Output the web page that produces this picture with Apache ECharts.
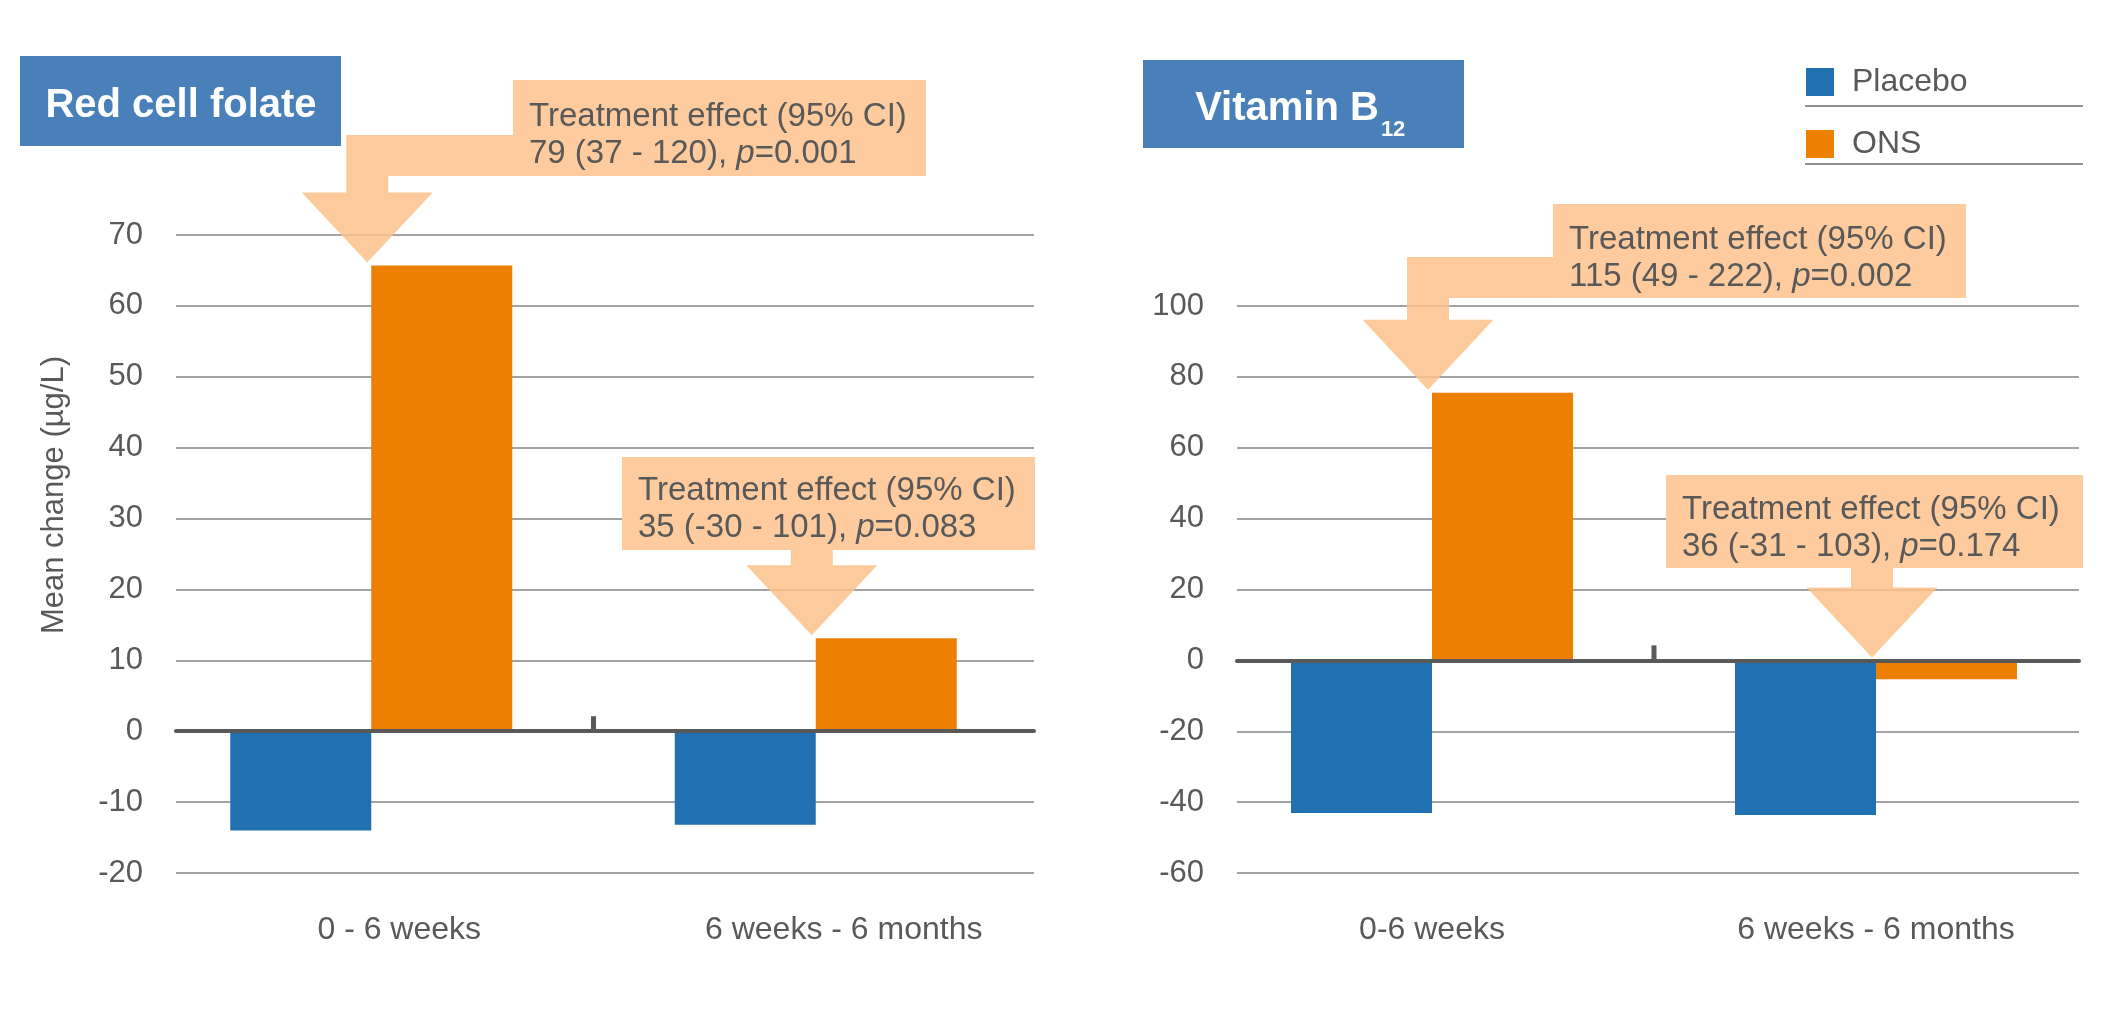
<!DOCTYPE html>
<html lang="en">
<head>
<meta charset="utf-8">
<title>Red cell folate and vitamin B12</title>
<script src="https://cdn.jsdelivr.net/npm/echarts@6/dist/echarts.min.js"></script>
<style>
  html, body { margin: 0; padding: 0; background: #fff; }
  #chart { width: 2115px; height: 1010px; }
</style>
</head>
<body>
<div id="chart"></div>
<script>
// categories of each panel
var folateCategories = ['0 - 6 weeks', '6 weeks - 6 months'];
var b12Categories = ['0-6 weeks', '6 weeks - 6 months'];

// mean change (µg/L)
var folatePlacebo = [-14.0, -13.2];
var folateOns = [65.7, 13.1];
var b12Placebo = [-43.1, -43.6];
var b12Ons = [75.5, -5.3];

// value axes: min, max, interval
var folateAxis = [-20, 70, 10];
var b12Axis = [-60, 100, 20];

// treatment effect callouts: estimate text, p value
var folateEffects = [['79 (37 - 120), ', '0.001'], ['35 (-30 - 101), ', '0.083']];
var b12Effects = [['115 (49 - 222), ', '0.002'], ['36 (-31 - 103), ', '0.174']];

var FONT = "'Liberation Sans', Arial, sans-serif";
var TEXT = '#595959';
var BLUE = '#2170B1';
var ORANGE = '#ED8000';
var PEACH = '#FDCB9D';

var chart = echarts.init(document.getElementById('chart'));

// axis that carries the tick labels (no grid lines)
function valueAxis(gridIndex, ax) {
    return {
        type: 'value',
        gridIndex: gridIndex,
        min: ax[0], max: ax[1], interval: ax[2],
        axisLine: { show: false },
        axisTick: { show: false },
        axisLabel: { fontSize: 31, color: TEXT, margin: 6, fontFamily: FONT },
        splitLine: { show: false }
    };
}

// same scale on the narrower back grid, only for the grid lines
function gridAxis(gridIndex, ax) {
    return {
        type: 'value',
        gridIndex: gridIndex,
        min: ax[0], max: ax[1], interval: ax[2],
        axisLine: { show: false },
        axisTick: { show: false },
        axisLabel: { show: false },
        splitLine: { lineStyle: { color: '#A3A3A3', width: 2 } }
    };
}

function catAxis(gridIndex, cats, pad) {
    return {
        type: 'category',
        gridIndex: gridIndex,
        data: cats,
        axisLine: { show: false, onZero: false },
        axisTick: { show: false },
        axisLabel: { fontSize: 32, lineHeight: 32, color: TEXT, margin: 41, fontFamily: FONT, padding: pad }
    };
}

// zero line of the back grid
function zeroAxis(gridIndex) {
    return {
        type: 'category',
        gridIndex: gridIndex,
        data: [],
        z: 5,
        axisLine: { show: true, onZero: true, lineStyle: { color: '#595959', width: 4 } },
        axisTick: { show: false },
        axisLabel: { show: false },
        splitLine: { show: false }
    };
}

function bar(name, color, idx, data) {
    return {
        name: name,
        type: 'bar',
        xAxisIndex: idx,
        yAxisIndex: idx,
        data: data,
        barWidth: 141,
        barGap: '0%',
        itemStyle: { color: color },
        emphasis: { disabled: true }
    };
}

chart.setOption({
    animation: false,
    backgroundColor: '#fff',
    textStyle: { fontFamily: FONT },
    legend: {
        data: ['Placebo', 'ONS'],
        orient: 'vertical',
        left: 1806, top: 66,
        padding: 0,
        itemWidth: 28, itemHeight: 28, itemGap: 30,
        icon: 'rect',
        selectedMode: false,
        textStyle: { fontSize: 32, lineHeight: 28, color: TEXT, padding: [0, 0, 0, 13] }
    },
    grid: [
        { left: 149, top: 235, width: 889, height: 638 },
        { left: 1210, top: 306, width: 888, height: 567 },
        { left: 176, top: 235, width: 858, height: 638 },
        { left: 1237, top: 306, width: 842, height: 567 }
    ],
    xAxis: [
        catAxis(0, folateCategories, [0, 0, 0, 56]),
        catAxis(1, b12Categories, 0),
        zeroAxis(2),
        zeroAxis(3)
    ],
    yAxis: [
        valueAxis(0, folateAxis),
        valueAxis(1, b12Axis),
        gridAxis(2, folateAxis),
        gridAxis(3, b12Axis)
    ],
    series: [
        bar('Placebo', BLUE, 0, folatePlacebo),
        bar('ONS', ORANGE, 0, folateOns),
        bar('Placebo', BLUE, 1, b12Placebo),
        bar('ONS', ORANGE, 1, b12Ons)
    ]
});

// annotations, placed from the bars' own pixels
function px(seriesIndex, cat, val) {
    return chart.convertToPixel({ seriesIndex: seriesIndex }, [cat, val]);
}

var g = [];

// titles
g.push({ type: 'rect', shape: { x: 20, y: 56, width: 321, height: 90 }, style: { fill: '#4A80BA' }, z: 100 });
g.push({ type: 'text', style: { text: 'Red cell folate', x: 181, y: 106, align: 'center', verticalAlign: 'middle',
    font: 'bold 40px ' + FONT, fill: '#fff' }, z: 101 });
g.push({ type: 'rect', shape: { x: 1143, y: 60, width: 321, height: 88 }, style: { fill: '#4A80BA' }, z: 100 });
var ctx = document.createElement('canvas').getContext('2d');
ctx.font = 'bold 40px ' + FONT;
var vw = ctx.measureText('Vitamin B').width;
var vx = 1300 - (vw + 26) / 2;
g.push({ type: 'text', style: { text: 'Vitamin B', x: vx, y: 109, align: 'left', verticalAlign: 'middle',
    font: 'bold 40px ' + FONT, fill: '#fff' }, z: 101 });
g.push({ type: 'text', style: { text: '12', x: vx + vw + 2, y: 130, align: 'left', verticalAlign: 'middle',
    font: 'bold 22px ' + FONT, fill: '#fff' }, z: 101 });

// y axis name
g.push({ type: 'text', x: 54, y: 495, rotation: Math.PI / 2,
    style: { text: 'Mean change (µg/L)', x: 0, y: 0, align: 'center', verticalAlign: 'middle',
        font: '31px ' + FONT, fill: TEXT }, z: 100 });

// legend rules
[106, 164].forEach(function (y) {
    g.push({ type: 'line', shape: { x1: 1805, y1: y, x2: 2083, y2: y }, style: { stroke: '#8F8F8F', lineWidth: 2 }, z: 100 });
});

// small tick between categories on the zero line
[0, 2].forEach(function (si) {
    var a = px(si, 0, 0), b = px(si, 1, 0);
    var x = (a[0] + b[0]) / 2;
    g.push({ type: 'line', shape: { x1: x, y1: a[1] - 15, x2: x, y2: a[1] }, style: { stroke: '#595959', lineWidth: 5 }, z: 50 });
});

// treatment effect callouts
var callouts = [
    { si: 1, cat: 0, val: folateOns[0], box: [513, 80, 926, 176], ty: 117, fx: folateEffects[0] },
    { si: 1, cat: 1, val: folateOns[1], box: [622, 457, 1035, 550], ty: 491, fx: folateEffects[1] },
    { si: 3, cat: 0, val: b12Ons[0], box: [1553, 204, 1966, 298], ty: 240, fx: b12Effects[0] },
    { si: 3, cat: 1, val: b12Ons[1], box: [1666, 475, 2083, 568], ty: 510, fx: b12Effects[1] }
];

callouts.forEach(function (c) {
    var p = px(c.si, c.cat, Math.max(c.val, 0));
    var tx = p[0] - 4, ty = p[1] - 3;
    var ht = ty - 70, sl = tx - 21, sr = tx + 21;
    var b = c.box;
    var pts;
    if (sl < b[0]) {
        var lt = b[3] - 41;
        pts = [[b[0] + 6, lt], [sl, lt], [sl, ht], [tx - 65.5, ht], [tx, ty], [tx + 65.5, ht], [sr, ht], [sr, b[3]], [b[0] + 6, b[3]]];
    } else {
        pts = [[sl, b[3] - 6], [sl, ht], [tx - 65.5, ht], [tx, ty], [tx + 65.5, ht], [sr, ht], [sr, b[3] - 6]];
    }
    g.push({ type: 'polygon', shape: { points: pts }, style: { fill: '#FDC28A', opacity: 0.85 }, z: 100 });
    g.push({ type: 'rect', shape: { x: b[0], y: b[1], width: b[2] - b[0], height: b[3] - b[1] }, style: { fill: PEACH }, z: 101 });
    g.push({ type: 'text', z: 102, style: {
        text: '{n|Treatment effect (95% CI)}\n{n|' + c.fx[0] + '}{i|p}{n|=' + c.fx[1] + '}',
        x: b[0] + 16, y: c.ty - 18.5, align: 'left', verticalAlign: 'top',
        rich: {
            n: { fontSize: 33, lineHeight: 37, fontFamily: FONT, fill: TEXT },
            i: { fontSize: 33, lineHeight: 37, fontFamily: FONT, fontStyle: 'italic', fill: TEXT }
        }
    } });
});

chart.setOption({ graphic: g });
</script>
</body>
</html>
